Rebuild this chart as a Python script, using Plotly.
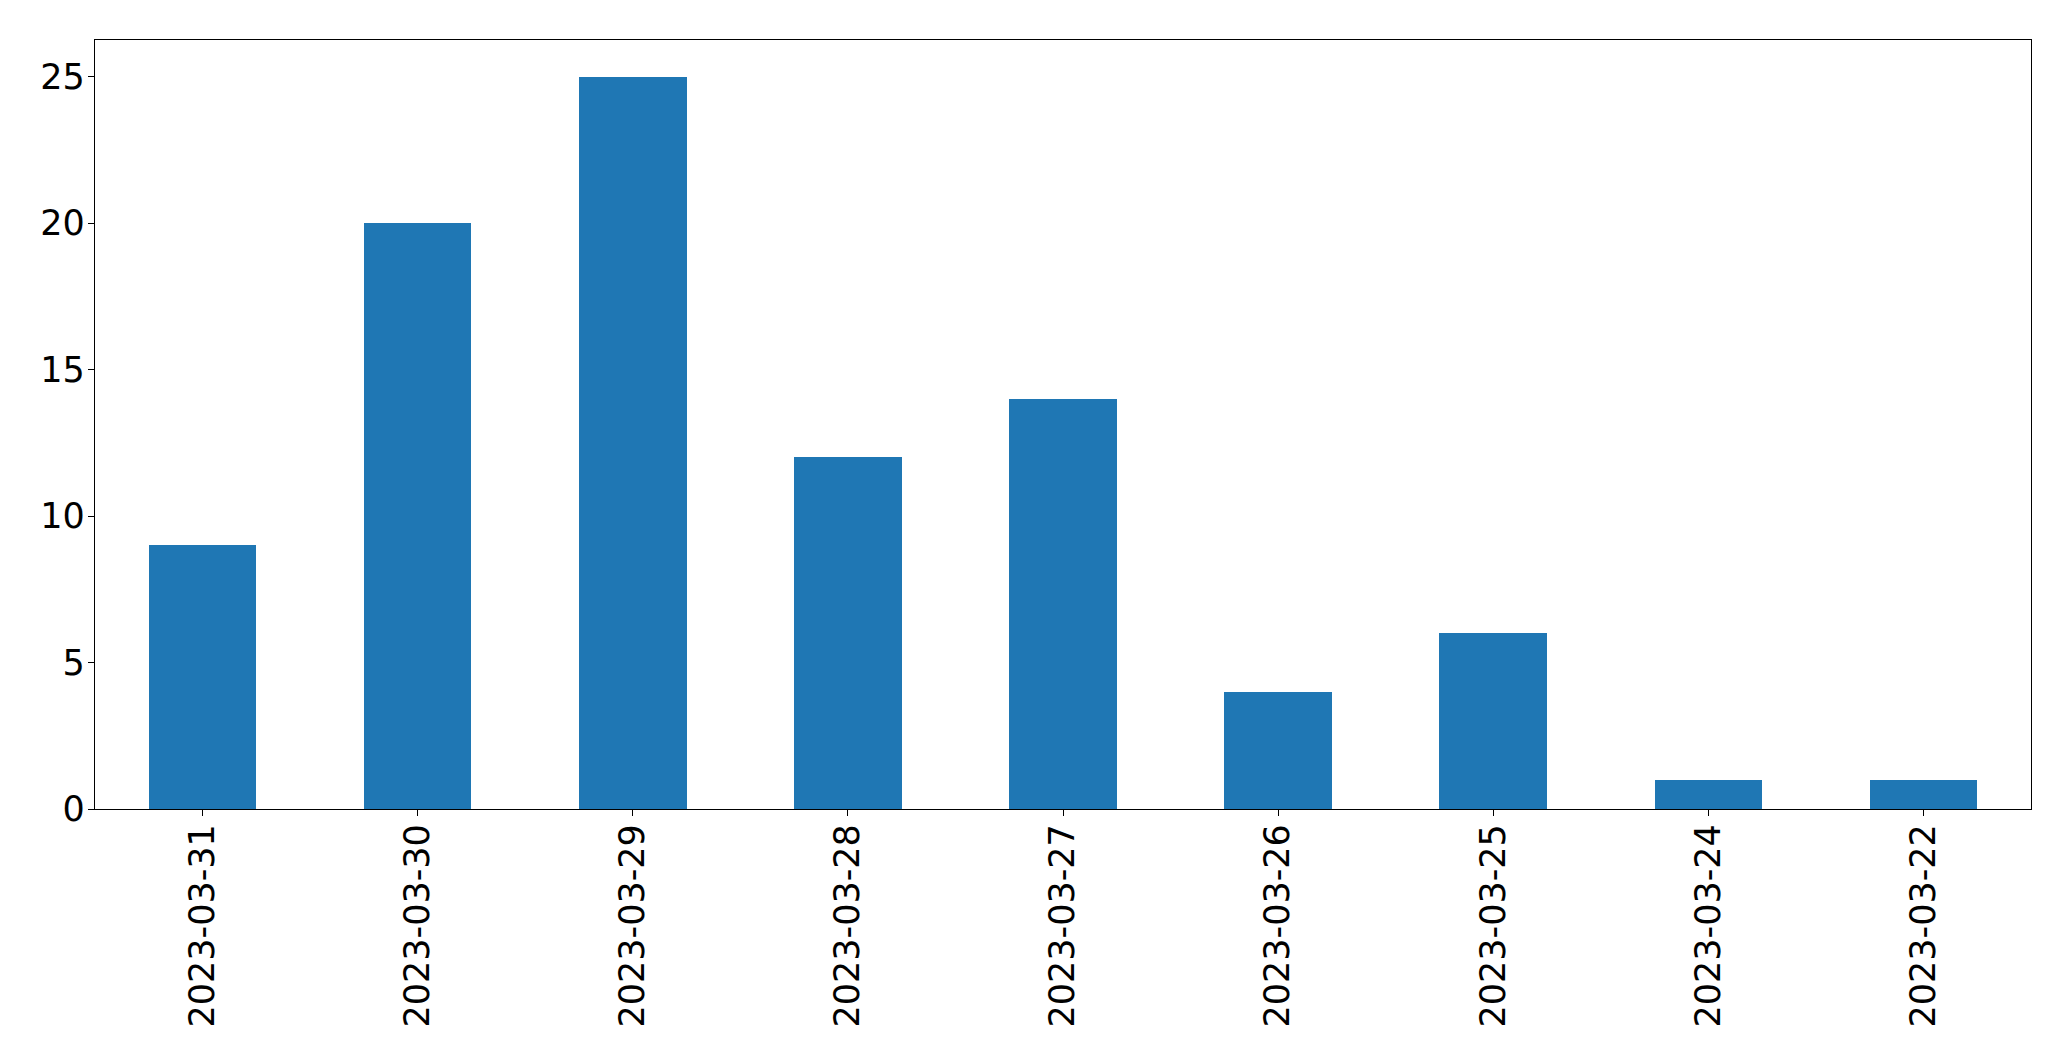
import plotly.graph_objects as go

categories = ["2023-03-31", "2023-03-30", "2023-03-29", "2023-03-28", "2023-03-27",
              "2023-03-26", "2023-03-25", "2023-03-24", "2023-03-22"]
counts = [9, 20, 25, 12, 14, 4, 6, 1, 1]
y_ticks = [0, 5, 10, 15, 20, 25]

fig = go.Figure(go.Bar(x=categories, y=counts, marker_color="#1f77b4",
                       marker_line_width=0, width=0.5))

font = dict(family="DejaVu Sans", size=35, color="black")
fig.update_layout(
    width=2063, height=1053,
    margin=dict(l=86.5, r=39.5, t=31.5, b=252),
    paper_bgcolor="white", plot_bgcolor="white",
    showlegend=False, bargap=0,
)
fig.update_xaxes(type="category", range=[-0.5, 8.5], tickangle=-90,
                 showline=True, linecolor="black", linewidth=1.3, mirror=True,
                 ticks="outside", ticklen=6, tickcolor="black", tickwidth=1.3,
                 tickfont=font, showgrid=False, zeroline=False,
                 ticklabelstandoff=-6)
fig.update_yaxes(range=[0, 26.25], tickvals=y_ticks,
                 showline=True, linecolor="black", linewidth=1.3, mirror=True,
                 ticks="outside", ticklen=6, tickcolor="black", tickwidth=1.3,
                 tickfont=font, showgrid=False, zeroline=False,
                 ticklabelstandoff=-4)

fig.write_html("out.html")
